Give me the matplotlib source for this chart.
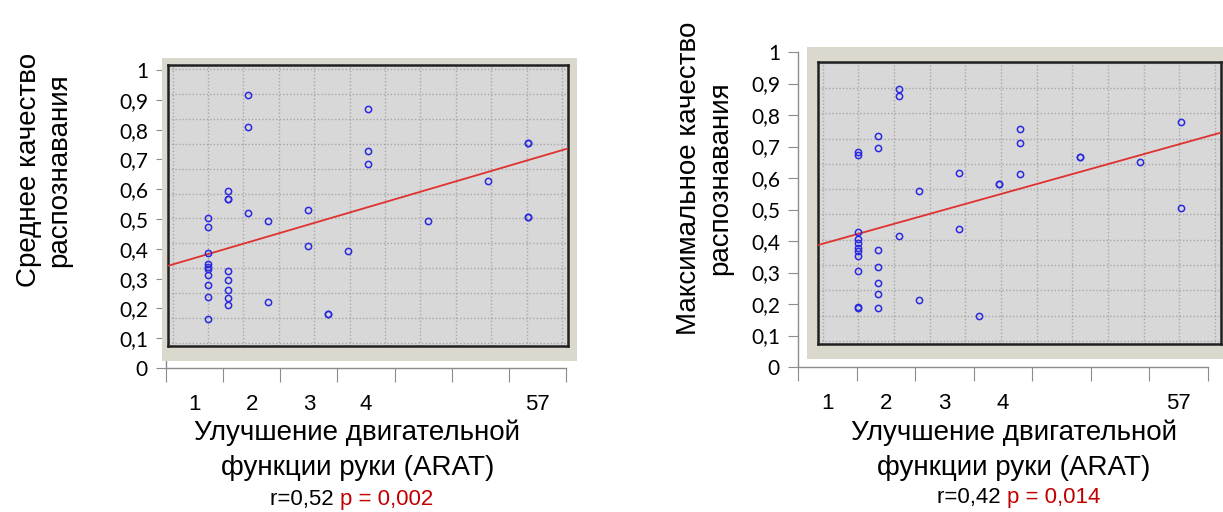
import numpy as np
import matplotlib
matplotlib.use("Agg")
from matplotlib import pyplot as plt

# ---- data ----
# inner x position of each column of points (ARAT improvement groups)
# left panel: mean recognition quality
x_mean = [1]*10 + [2]*8 + [3]*3 + [4]*2 + [6]*2 + [7]*2 + [8] + [9]*3 + [12] + [15] + [17]*4
y_mean = [0.502, 0.472, 0.385, 0.348, 0.340, 0.334, 0.312, 0.280, 0.239, 0.165,
          0.595, 0.567, 0.567, 0.327, 0.294, 0.262, 0.236, 0.211,
          0.918, 0.809, 0.521,
          0.495, 0.220,
          0.531, 0.408,
          0.180, 0.180,
          0.394,
          0.869, 0.730, 0.686,
          0.494,
          0.628,
          0.754, 0.754, 0.508, 0.508]
fit_mean = (0.343, 0.737)       # line value at left / right edge of inner plot

# right panel: max recognition quality
x_max = [1]*11 + [2]*7 + [3]*3 + [4]*2 + [6]*2 + [7] + [8]*2 + [9]*3 + [12]*2 + [15] + [17]*2
y_max = [0.681, 0.673, 0.428, 0.405, 0.393, 0.377, 0.369, 0.353, 0.306, 0.191, 0.186,
         0.733, 0.694, 0.371, 0.318, 0.267, 0.231, 0.187,
         0.883, 0.860, 0.415,
         0.560, 0.214,
         0.615, 0.437,
         0.162,
         0.581, 0.581,
         0.756, 0.712, 0.612,
         0.665, 0.665,
         0.651,
         0.777, 0.506]
fit_max = (0.387, 0.744)

y_ticks = [0, 0.1, 0.2, 0.3, 0.4, 0.5, 0.6, 0.7, 0.8, 0.9, 1]
y_ticklabels = ["0", "0,1", "0,2", "0,3", "0,4", "0,5", "0,6", "0,7", "0,8", "0,9", "1"]
x_catlabels = ["1", "2", "3", "4", "", "", "57"]

ylabel_left = "Среднее качество\nраспознавания"
ylabel_right = "Максимальное качество\nраспознавания"
xlabel = "Улучшение двигательной\nфункции руки (ARAT)"
stats_left = ("r=0,52", "p = 0,002")
stats_right = ("r=0,42", "p = 0,014")

W, H = 1223, 512
fig = plt.figure(figsize=(W/100, H/100), dpi=100)
fig.patch.set_facecolor("white")


def box(x0, y0, x1, y1):
    # pixel box (top-left origin) -> figure fraction rect
    return [x0/W, 1 - y1/H, (x1 - x0)/W, (y1 - y0)/H]


def panel(outer, beige, inner, xs, ys, fit, ylab, ylab_xy, stats, stats_xy, xlab_xy,
          in_ylim, in_ygrid):
    # outer powerpoint-like axis
    ax = fig.add_axes(box(*outer))
    ax.set_xlim(0, 7)
    ax.set_ylim(0, 1)
    ax.patch.set_alpha(0)
    for s in ["top", "right"]:
        ax.spines[s].set_visible(False)
    for s in ["left", "bottom"]:
        ax.spines[s].set_color("#8c8c8c")
        ax.spines[s].set_linewidth(1.0)
    ax.set_yticks(y_ticks)
    ax.set_yticklabels(y_ticklabels, fontsize=15, family="Lato")
    ax.tick_params(axis="y", direction="out", length=7, color="#8c8c8c", pad=6)
    ax.set_xticks(range(8))
    ax.set_xticklabels([])
    ax.tick_params(axis="x", which="major", direction="out", length=10, color="#8c8c8c")
    ax.set_xticks(np.arange(7) + 0.5, minor=True)
    ax.set_xticklabels(x_catlabels, minor=True, fontsize=16, family="Liberation Sans")
    ax.tick_params(axis="x", which="minor", length=0, pad=19)
    ax.set_xlabel(xlabel, fontsize=20, family="Liberation Sans", linespacing=1.45)
    ax.xaxis.set_label_coords(*xlab_xy)

    # beige frame of the pasted image
    bg = fig.add_axes(box(*beige))
    bg.set_facecolor("#dbd9ce")
    bg.set_xticks([])
    bg.set_yticks([])
    for s in bg.spines.values():
        s.set_visible(False)

    # inner scatter plot
    ai = fig.add_axes(box(*inner))
    ai.set_facecolor("#d8d8d8")
    ai.set_xlim(-1, 19)
    ai.set_ylim(*in_ylim)
    ai.set_xticks(1 + 1.77*np.arange(-1, 11))
    ai.set_yticks(in_ygrid)
    ai.tick_params(length=0, labelbottom=False, labelleft=False)
    ai.grid(True, color="#a8a8a8", linestyle=(0, (1, 1.5)), linewidth=1.0)
    for s in ai.spines.values():
        s.set_color("#202020")
        s.set_linewidth(1.8)
    ai.plot([-1, 19], fit, color="#e03030", linewidth=1.3, zorder=3)
    ai.plot(xs, ys, linestyle="none", marker="o", markersize=4.5,
            markerfacecolor="none", markeredgecolor="#2a2ae0", markeredgewidth=1.1,
            zorder=4)

    fig.text(ylab_xy[0]/W, 1 - ylab_xy[1]/H, ylab, rotation=90, ha="center", va="center",
             fontsize=20, family="Liberation Sans", linespacing=1.25)
    fig.text(stats_xy[0]/W, 1 - stats_xy[1]/H, stats[0] + " ", ha="right", va="center",
             fontsize=16, family="Liberation Sans")
    fig.text(stats_xy[0]/W, 1 - stats_xy[1]/H, stats[1], ha="left", va="center",
             fontsize=16, family="Liberation Sans", color="#c00000")


panel(outer=(166, 70, 566, 368), beige=(162, 58, 577, 361), inner=(168, 65, 568, 346),
      xs=x_mean, ys=y_mean, fit=fit_mean, ylab=ylabel_left, ylab_xy=(44, 170),
      stats=stats_left, stats_xy=(340, 500), xlab_xy=(0.478, -0.172),
      in_ylim=(0.074, 1.017), in_ygrid=np.linspace(1.003, 0.085, 12))

panel(outer=(798, 52, 1208, 367), beige=(807, 47, 1223, 359), inner=(818, 62, 1221, 344),
      xs=x_max, ys=y_max, fit=fit_max, ylab=ylabel_right, ylab_xy=(705, 178),
      stats=stats_right, stats_xy=(1007, 497), xlab_xy=(0.527, -0.166),
      in_ylim=(0.073, 0.968), in_ygrid=np.linspace(0.966, 0.083, 12))

fig.savefig("out.png", dpi=100, facecolor="white")
